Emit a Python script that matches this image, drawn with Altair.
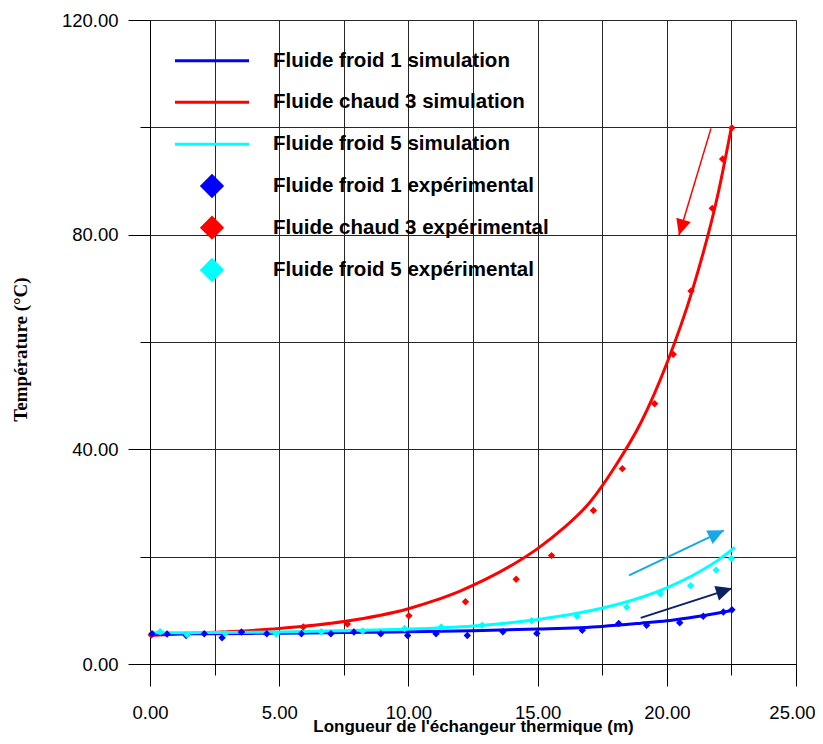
import math
import altair as alt
import pandas as pd

# ---------------- data ----------------
# Simulation curves
sim1_x = [0, 2.5, 5, 7.5, 10, 12.5, 15, 17.5, 19, 20, 20.4, 21, 22, 22.55]
sim1_y = [5.6, 5.65, 5.75, 5.85, 6.0, 6.2, 6.5, 7.0, 7.6, 8.05, 8.3, 8.7, 9.5, 10.0]

sim3_x = [0, 2.5, 5, 7.5, 10, 11, 12, 13, 14, 15, 16, 17, 18, 19, 20, 21, 22, 22.5]
sim3_y = [5.3, 5.9, 6.6, 7.9, 10.3, 11.8, 13.6, 15.8, 18.4, 21.5, 25.3, 30.0, 36.8, 45.0, 56.0, 69.8, 88.0, 100.0]

sim5_x = [0, 2.5, 5, 7.5, 10, 12.5, 15, 17.4, 18, 19, 20, 21, 22, 22.64]
sim5_y = [5.8, 5.85, 5.95, 6.2, 6.5, 7.1, 8.3, 10.3, 11.0, 12.4, 14.2, 16.5, 19.4, 21.7]

# Experimental points
exp1_x = [0.08, 0.66, 1.40, 2.10, 2.79, 3.54, 4.52, 5.86, 7.0, 7.89, 8.93, 9.97, 11.07, 12.28,
          13.66, 14.97, 16.73, 18.14, 19.22, 20.50, 21.41, 22.19, 22.52]
exp1_y = [5.65, 5.6, 5.3, 5.65, 4.9, 5.95, 5.65, 5.65, 5.65, 5.95, 5.65, 5.3, 5.65, 5.3,
          6.0, 5.7, 6.3, 7.55, 7.2, 7.7, 8.9, 9.7, 10.1]

exp3_x = [0.05, 5.93, 7.64, 10.02, 12.21, 14.17, 15.54, 17.16, 18.28, 19.53, 20.25, 20.94, 21.76, 22.16, 22.52]
exp3_y = [5.4, 6.9, 7.45, 9.0, 11.6, 15.8, 20.2, 28.6, 36.4, 48.5, 57.7, 69.5, 84.9, 94.1, 99.9]

exp5_x = [0.39, 1.43, 2.91, 4.88, 6.63, 8.23, 9.85, 11.27, 12.85, 14.77, 16.53, 18.45, 19.75, 20.92, 21.91, 22.5]
exp5_y = [6.0, 5.5, 5.7, 5.6, 6.0, 6.15, 6.6, 6.9, 7.2, 8.05, 8.9, 10.6, 13.1, 14.6, 17.5, 19.65]

# Annotation arrows (start -> tip, data units)
arrow_x0 = [21.71, 18.54, 18.99]
arrow_y0 = [99.8, 16.5, 8.6]
arrow_x1 = [20.47, 22.21, 22.52]
arrow_y1 = [79.9, 24.9, 14.1]

legend_labels = [
    "Fluide froid 1 simulation",
    "Fluide chaud 3 simulation",
    "Fluide froid 5 simulation",
    "Fluide froid 1 expérimental",
    "Fluide chaud 3 expérimental",
    "Fluide froid 5 expérimental",
]

x_grid = [0, 2.5, 5, 7.5, 10, 12.5, 15, 17.5, 20, 22.5, 25]
y_grid = [0, 20, 40, 60, 80, 100, 120]

# ---------------- styles ----------------
BLUE, RED, CYAN = "#0000ff", "#ff0000", "#00ffff"
arrow_colors = ["#ff0000", "#18a8e6", "#0b2160"]
W, H = 646, 644
XMAX, YMAX = 25, 120
SANS = "Liberation Sans, Arial, Helvetica, sans-serif"
SERIF = "Liberation Serif, Times New Roman, serif"

xs = alt.Scale(domain=[0, XMAX], nice=False, zero=False)
ys = alt.Scale(domain=[0, YMAX], nice=False, zero=False)

x_axis = alt.Axis(
    values=x_grid, grid=True, gridColor="#262626", gridWidth=1, gridOpacity=1,
    domain=True, domainColor="#000000", domainWidth=1,
    ticks=True, tickColor="#000000", tickWidth=1,
    tickSize={"condition": {"test": "datum.value % 5 === 0", "value": 22}, "value": 11},
    labelExpr="datum.value % 5 === 0 ? format(datum.value, '.2f') : ''",
    labelOffset={"condition": {"test": "datum.value === 25", "value": -4}, "value": 0},
    labelFont=SANS, labelFontSize=18.5, labelColor="#000000", labelPadding=17,
    labelOverlap=False, labelFlush=False, labelBound=False,
    title="Longueur de l'échangeur thermique (m)", titleFont=SANS, titleFontSize=17,
    titleFontWeight="bold", titleColor="#000000", titleBaseline="middle",
    titleX=W / 2, titleY=62, titleAnchor="middle", titleAlign="center",
)
y_axis = alt.Axis(
    values=y_grid, grid=True, gridColor="#262626", gridWidth=1, gridOpacity=1,
    domain=True, domainColor="#000000", domainWidth=1,
    ticks=True, tickColor="#000000", tickWidth=1,
    tickSize={"condition": {"test": "datum.value % 40 === 0", "value": 22}, "value": 10},
    labelExpr="datum.value % 40 === 0 ? format(datum.value, '.2f') : ''",
    labelFont=SANS, labelFontSize=18.5, labelColor="#000000", labelPadding=10,
    labelOverlap=False, labelFlush=False, labelBound=False,
    title="Température (°C)", titleFont=SERIF, titleFontSize=19,
    titleFontWeight="bold", titleColor="#000000", titleAngle=270,
    titleBaseline="middle", titleAlign="center", titleX=-130, titleY=H / 2 + 7,
)


def X(field):
    return alt.X(f"{field}:Q", scale=xs, axis=x_axis)


def Y(field):
    return alt.Y(f"{field}:Q", scale=ys, axis=y_axis)


layers = []

# simulation lines
for sx, sy, col in [(sim3_x, sim3_y, RED), (sim1_x, sim1_y, BLUE), (sim5_x, sim5_y, CYAN)]:
    df = pd.DataFrame({"x": sx, "y": sy})
    layers.append(
        alt.Chart(df).mark_line(color=col, strokeWidth=3, interpolate="monotone", clip=False)
        .encode(x=X("x"), y=Y("y"))
    )

# experimental points
for ex, ey, col in [(exp3_x, exp3_y, RED), (exp1_x, exp1_y, BLUE), (exp5_x, exp5_y, CYAN)]:
    df = pd.DataFrame({"x": ex, "y": ey})
    layers.append(
        alt.Chart(df).mark_point(shape="diamond", filled=True, size=55, opacity=1, color=col)
        .encode(x=X("x"), y=Y("y"))
    )

# arrows
px_x = W / XMAX
px_y = H / YMAX
angles = [
    (math.degrees(math.atan2((x1 - x0) * px_x, (y1 - y0) * px_y)) + 360) % 360
    for x0, y0, x1, y1 in zip(arrow_x0, arrow_y0, arrow_x1, arrow_y1)
]
arr = pd.DataFrame({
    "x0": arrow_x0, "y0": arrow_y0, "x1": arrow_x1, "y1": arrow_y1,
    "ang": angles, "col": arrow_colors, "w": [1.5, 2, 2],
})
layers.append(
    alt.Chart(arr).mark_rule()
    .encode(x=X("x0"), y=Y("y0"), x2="x1:Q", y2="y1:Q",
            color=alt.Color("col:N", scale=None),
            strokeWidth=alt.StrokeWidth("w:Q", scale=None))
)
layers.append(
    alt.Chart(arr).mark_point(shape="M0,0L0.47,1L-0.47,1Z", filled=True, size=1024, opacity=1)
    .encode(x=X("x1"), y=Y("y1"), angle=alt.Angle("ang:Q", scale=None),
            color=alt.Color("col:N", scale=None))
)

# manual legend (top-left, inside plot)
row_y = [40.7, 82.3, 124.3, 166.0, 207.7, 250.0]
leg_cols = [BLUE, RED, CYAN, BLUE, RED, CYAN]
for i, (lab, col, yy) in enumerate(zip(legend_labels, leg_cols, row_y)):
    d = pd.DataFrame({"label": [lab]})
    if i < 3:
        layers.append(
            alt.Chart(d).mark_rule(color=col, strokeWidth=3)
            .encode(x=alt.value(25), x2=alt.value(99), y=alt.value(yy))
        )
    else:
        layers.append(
            alt.Chart(d).mark_point(shape="diamond", filled=True, size=590, opacity=1, color=col)
            .encode(x=alt.value(62), y=alt.value(yy))
        )
    layers.append(
        alt.Chart(d).mark_text(align="left", baseline="middle", font=SANS, fontSize=20.5,
                               fontWeight="bold", color="#000000")
        .encode(x=alt.value(123), y=alt.value(yy), text="label:N")
    )

chart = alt.layer(*layers).properties(
    width=W, height=H,
    autosize=alt.AutoSizeParams(type="none"),
    padding={"left": 142, "top": 12, "right": 19, "bottom": 72},
    background="white",
).configure_view(stroke=None)

chart.save("out.html", embed_options={"renderer": "svg", "actions": False})
